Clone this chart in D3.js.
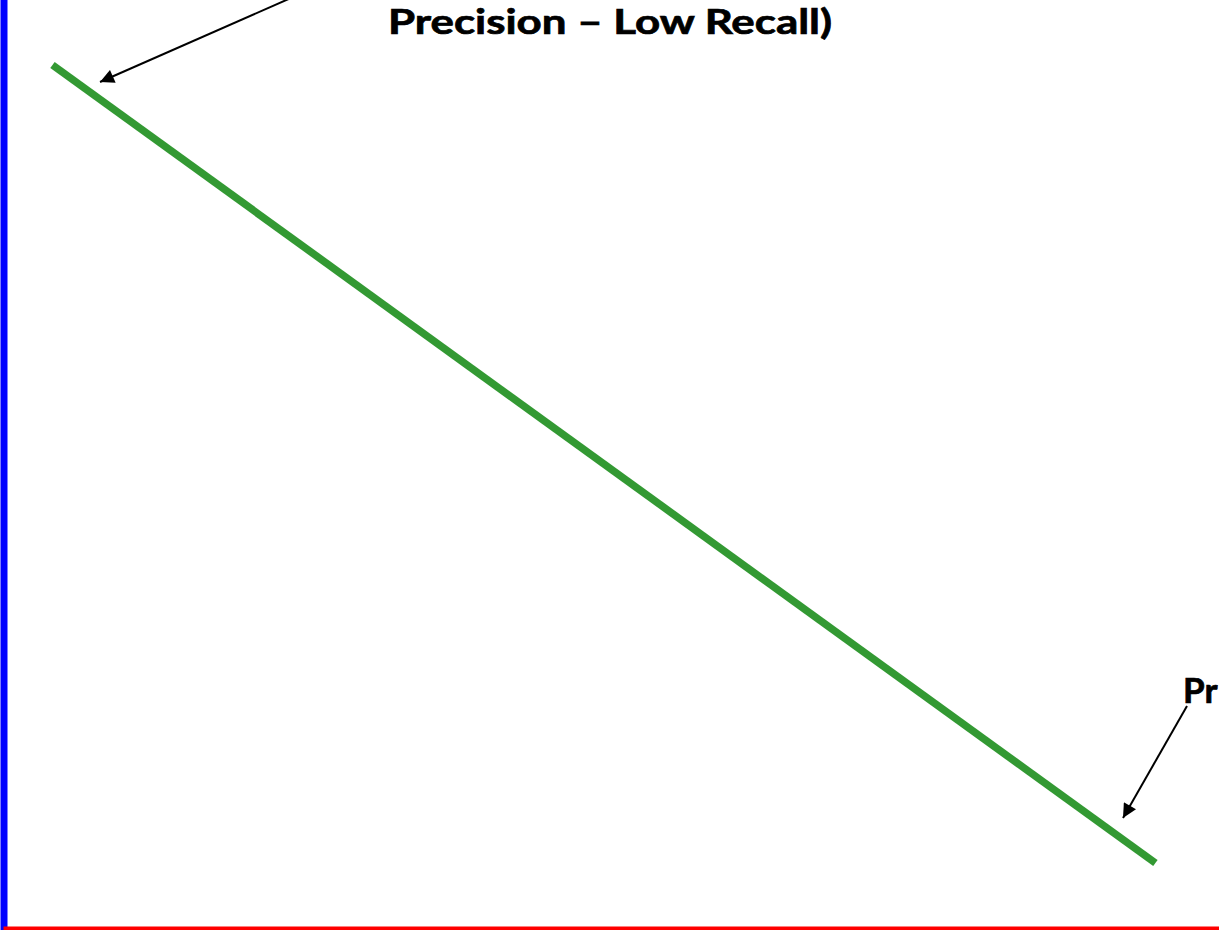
<!DOCTYPE html>
<html>
<head>
<meta charset="utf-8">
<script src="https://cdn.jsdelivr.net/npm/d3@7"></script>
<style>
  html, body { margin: 0; padding: 0; background: #fff; overflow: hidden; }
  svg { display: block; }
</style>
</head>
<body>
<svg id="chart" width="1219" height="930"></svg>
<script>
// Data: a schematic precision-recall trade-off line
const recall = [0.04, 0.95];
const precision = [0.93, 0.07];
const topLabel = "Precision \u2013 Low Recall)";
const rightLabel = "Pr";

const W = 1219, H = 930;
const svg = d3.select("#chart");

const x = d3.scaleLinear().domain([0, 1]).range([4, 1216]);
const y = d3.scaleLinear().domain([0, 1]).range([928, 0]);

// Y axis (blue)
const yAxis = svg.append("g")
  .attr("transform", `translate(${x(0) - 0.5},0)`)
  .call(d3.axisLeft(y.copy().range([H + 2, -2])).tickValues([]).tickSizeOuter(0));
yAxis.select(".domain").attr("stroke", "#0000FF").attr("stroke-width", 7);

// X axis (red)
const xAxis = svg.append("g")
  .attr("transform", `translate(0,${y(0)})`)
  .call(d3.axisBottom(x.copy().range([3, W + 5])).tickValues([]).tickSizeOuter(0));
xAxis.select(".domain").attr("stroke", "#FF0000").attr("stroke-width", 4);

// Green curve
const pts = recall.map((r, i) => [r, precision[i]]);
svg.append("path")
  .datum(pts)
  .attr("fill", "none")
  .attr("stroke", "#339933")
  .attr("stroke-width", 7.5)
  .attr("stroke-linecap", "butt")
  .attr("d", d3.line().x(d => x(d[0])).y(d => y(d[1])));

// Arrow marker
const defs = svg.append("defs");
defs.append("marker")
  .attr("id", "arrow")
  .attr("viewBox", "0 0 10 10")
  .attr("refX", 10).attr("refY", 5)
  .attr("markerWidth", 8.5).attr("markerHeight", 7)
  .attr("markerUnits", "strokeWidth")
  .attr("orient", "auto")
  .append("path")
  .attr("d", "M0,0 L10,5 L0,10 Z")
  .attr("fill", "#000");

// Annotations
svg.append("line")
  .attr("x1", 300).attr("y1", -6)
  .attr("x2", 100).attr("y2", 82)
  .attr("stroke", "#000").attr("stroke-width", 2)
  .attr("marker-end", "url(#arrow)");

svg.append("line")
  .attr("x1", 1187).attr("y1", 706)
  .attr("x2", 1123).attr("y2", 818)
  .attr("stroke", "#000").attr("stroke-width", 2)
  .attr("marker-end", "url(#arrow)");

const fontFam = "Lato, 'Open Sans', 'DejaVu Sans', sans-serif";
svg.append("text")
  .attr("x", 388).attr("y", 34)
  .attr("font-family", fontFam)
  .attr("font-weight", "bold")
  .attr("font-size", 35)
  .attr("fill", "#000")
  .attr("stroke", "#000")
  .attr("stroke-width", 0.7)
  .attr("textLength", 444)
  .attr("lengthAdjust", "spacingAndGlyphs")
  .text(topLabel);

svg.append("text")
  .attr("x", 1183).attr("y", 703)
  .attr("font-family", fontFam)
  .attr("font-weight", "bold")
  .attr("font-size", 35)
  .attr("fill", "#000")
  .attr("stroke", "#000")
  .attr("stroke-width", 0.7)
  .text(rightLabel);
</script>
</body>
</html>
